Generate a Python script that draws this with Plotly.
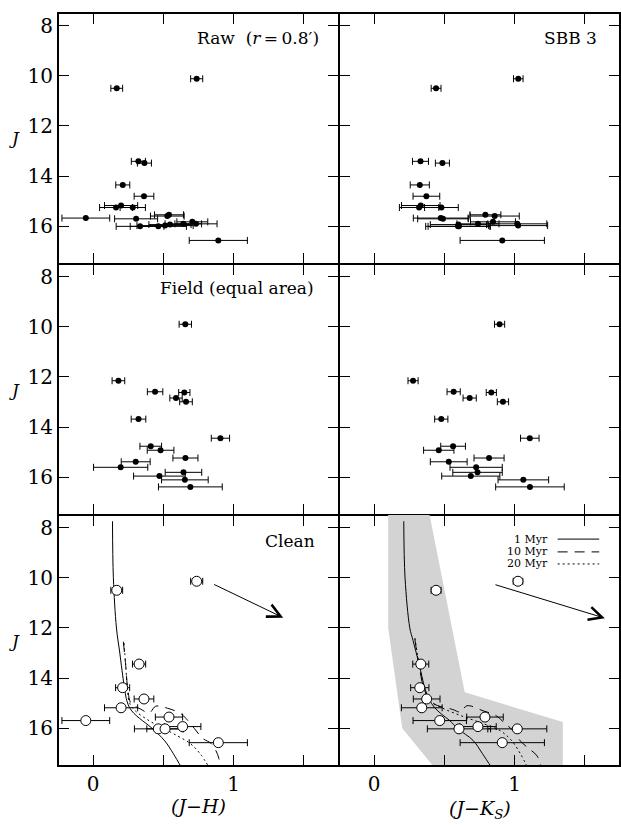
import plotly.graph_objects as go
from plotly.subplots import make_subplots

# ---------------- data ----------------
# Raw (r = 0.8') stars
raw_J   = [10.12, 10.50, 13.41, 13.48, 14.35, 14.80, 15.17, 15.25, 15.25, 15.67, 15.70,
           15.54, 15.59, 15.82, 15.90, 15.90, 16.00, 16.00, 15.97, 15.93, 16.56]
raw_JH  = [0.737, 0.168, 0.322, 0.365, 0.211, 0.362, 0.199, 0.163, 0.282, -0.052, 0.306,
           0.540, 0.528, 0.706, 0.642, 0.732, 0.334, 0.464, 0.512, 0.547, 0.891]
raw_eJH = [0.043, 0.042, 0.05, 0.05, 0.05, 0.07, 0.118, 0.117, 0.09, 0.17, 0.153,
           0.103, 0.12, 0.11, 0.13, 0.15, 0.17, 0.2, 0.2, 0.15, 0.207]
raw_JK  = [1.026, 0.441, 0.330, 0.486, 0.325, 0.372, 0.332, 0.320, 0.479, 0.474, 0.490,
           0.792, 0.858, 0.846, 0.739, 1.019, 0.597, 0.604, 1.025, 0.600, 0.912]
raw_eJK = [0.034, 0.035, 0.057, 0.05, 0.068, 0.095, 0.137, 0.14, 0.12, 0.195, 0.18,
           0.11, 0.175, 0.16, 0.15, 0.21, 0.23, 0.22, 0.21, 0.2, 0.30]

# Field (equal area) stars
field_J   = [9.90, 12.15, 12.59, 12.62, 12.84, 12.99, 13.68, 14.44, 14.76, 14.92, 15.23,
             15.38, 15.60, 15.80, 15.95, 16.10, 16.38]
field_JH  = [0.656, 0.180, 0.441, 0.649, 0.590, 0.661, 0.323, 0.906, 0.410, 0.480, 0.657,
             0.303, 0.196, 0.643, 0.472, 0.653, 0.692]
field_eJH = [0.044, 0.045, 0.055, 0.040, 0.044, 0.045, 0.052, 0.065, 0.077, 0.095, 0.089,
             0.103, 0.193, 0.130, 0.184, 0.166, 0.227]
field_JK  = [0.893, 0.277, 0.566, 0.834, 0.680, 0.917, 0.478, 1.108, 0.562, 0.460, 0.818,
             0.531, 0.726, 0.736, 0.688, 1.062, 1.109]
field_eJK = [0.036, 0.036, 0.047, 0.036, 0.047, 0.040, 0.047, 0.066, 0.088, 0.108, 0.107,
             0.131, 0.186, 0.176, 0.207, 0.180, 0.244]

# Clean (decontaminated) stars
clean_J   = [10.14, 10.50, 13.44, 14.38, 14.83, 15.18, 15.69, 15.55, 16.02, 16.02, 15.93, 16.57]
clean_JH  = [0.737, 0.168, 0.327, 0.210, 0.362, 0.199, -0.052, 0.540, 0.464, 0.512, 0.637, 0.891]
clean_eJH = [0.043, 0.042, 0.047, 0.050, 0.070, 0.118, 0.170, 0.097, 0.170, 0.130, 0.130, 0.207]
clean_JK  = [1.024, 0.441, 0.332, 0.325, 0.374, 0.339, 0.467, 0.789, 0.604, 1.019, 0.739, 0.912]
clean_eJK = [0.034, 0.035, 0.057, 0.065, 0.095, 0.145, 0.190, 0.130, 0.225, 0.210, 0.130, 0.300]

# Isochrones, J vs (J-H)
iso1_J_h   = [7.75, 10.0, 12.0, 13.0, 14.0, 14.9, 15.2, 15.4, 15.6, 16.0, 16.5, 17.0, 17.6]
iso1_JH    = [0.138, 0.144, 0.166, 0.190, 0.213, 0.240, 0.262, 0.290, 0.330, 0.420, 0.510, 0.570, 0.632]
iso10_J_h  = [12.55, 13.5, 14.5, 15.0, 15.22, 15.38, 15.12, 15.2, 15.4, 15.6, 16.0, 16.4, 16.6,
              16.9, 17.2, 17.6]
iso10_JH   = [0.215, 0.232, 0.248, 0.270, 0.334, 0.400, 0.445, 0.530, 0.620, 0.660, 0.720, 0.780,
              0.840, 0.875, 0.895, 0.905]
iso20_J_h  = [12.6, 13.5, 14.5, 15.0, 15.3, 15.7, 16.0, 16.3, 16.6, 17.0, 17.6]
iso20_JH   = [0.220, 0.232, 0.245, 0.260, 0.300, 0.400, 0.500, 0.600, 0.690, 0.760, 0.830]

# Isochrones, J vs (J-Ks)
iso1_J_k   = [7.75, 10.0, 12.0, 12.5, 13.44, 14.38, 14.83, 15.17, 15.43, 15.69, 16.02, 16.48, 17.0, 17.6]
iso1_JK    = [0.211, 0.220, 0.254, 0.277, 0.320, 0.360, 0.390, 0.430, 0.479, 0.538, 0.597, 0.704,
              0.770, 0.840]
iso10_J_k  = [12.45, 13.5, 14.5, 15.0, 15.25, 15.35, 15.1, 15.3, 15.5, 15.8, 16.1, 16.5, 16.8,
              17.1, 17.6]
iso10_JK   = [0.290, 0.320, 0.360, 0.420, 0.560, 0.615, 0.660, 0.775, 0.870, 0.930, 0.990, 1.040,
              1.100, 1.160, 1.190]
iso20_J_k  = [12.4, 13.5, 14.5, 14.9, 15.2, 15.5, 15.8, 16.1, 16.5, 17.0, 17.6]
iso20_JK   = [0.290, 0.322, 0.362, 0.395, 0.490, 0.620, 0.770, 0.900, 0.980, 1.040, 1.095]

# Colour-magnitude filter band (J-Ks panel)
band_JK = [0.10, 0.395, 0.645, 1.343, 1.343, 0.42, 0.20, 0.10]
band_J  = [7.5, 7.5, 14.56, 15.75, 17.5, 17.5, 16.0, 12.0]

# Reddening vectors (start, end)
redJH_x = [0.851, 1.353]
redJH_y = [10.24, 11.59]
redJK_x = [0.853, 1.642]
redJK_y = [10.26, 11.61]

x_ticks = [0, 0.5, 1, 1.5]
x_ticktext = ["0", "", "1", ""]
y_ticks = [8, 10, 12, 14, 16]
y_ticktext = ["8", "10", "12", "14", "16"]

ages = ["1 Myr", "10 Myr", "20 Myr"]

# ---------------- figure ----------------
SERIF = "DejaVu Serif"
fig = make_subplots(rows=3, cols=2, horizontal_spacing=0, vertical_spacing=0)

def err(arr):
    return dict(type="data", array=arr, symmetric=True, color="black", thickness=1, width=3.5)

def filled(x, y, e, row, col):
    fig.add_trace(go.Scatter(x=x, y=y, mode="markers", error_x=err(e),
                             marker=dict(color="black", size=6), showlegend=False,
                             cliponaxis=True), row=row, col=col)

filled(raw_JH, raw_J, raw_eJH, 1, 1)
filled(raw_JK, raw_J, raw_eJK, 1, 2)
filled(field_JH, field_J, field_eJH, 2, 1)
filled(field_JK, field_J, field_eJK, 2, 2)

# band
fig.add_trace(go.Scatter(x=band_JK, y=band_J, fill="toself", fillcolor="#d3d3d3",
                         line=dict(width=0), mode="lines", showlegend=False,
                         hoverinfo="skip"), row=3, col=2)

dashes = ["solid", "10px,7px", "2px,3px"]
for xs, ys, d in [(iso1_JH, iso1_J_h, dashes[0]), (iso10_JH, iso10_J_h, dashes[1]),
                  (iso20_JH, iso20_J_h, dashes[2])]:
    fig.add_trace(go.Scatter(x=xs, y=ys, mode="lines", line=dict(color="black", width=1, dash=d),
                             showlegend=False, line_shape="spline"), row=3, col=1)
for xs, ys, d in [(iso1_JK, iso1_J_k, dashes[0]), (iso10_JK, iso10_J_k, dashes[1]),
                  (iso20_JK, iso20_J_k, dashes[2])]:
    fig.add_trace(go.Scatter(x=xs, y=ys, mode="lines", line=dict(color="black", width=1, dash=d),
                             showlegend=False, line_shape="spline"), row=3, col=2)

def opened(x, y, e, row, col):
    fig.add_trace(go.Scatter(x=x, y=y, mode="markers", error_x=err(e),
                             marker=dict(color="white", size=10, line=dict(color="black", width=1)),
                             showlegend=False), row=row, col=col)

opened(clean_JH, clean_J, clean_eJH, 3, 1)
opened(clean_JK, clean_J, clean_eJK, 3, 2)

# axes
for r in range(1, 4):
    for c in range(1, 3):
        fig.update_xaxes(row=r, col=c, range=[-0.25, 1.75], tickvals=x_ticks, ticktext=x_ticktext,
                         ticks="inside", ticklen=11, tickwidth=1.2, tickcolor="black",
                         showline=True, linewidth=1, linecolor="black", mirror="ticks",
                         showgrid=False, zeroline=False, showticklabels=(r == 3),
                         tickfont=dict(family=SERIF, size=20, color="black"))
        fig.update_yaxes(row=r, col=c, range=[17.5, 7.5], tickvals=y_ticks, ticktext=y_ticktext,
                         ticks="inside", ticklen=11, tickwidth=1.2, tickcolor="black",
                         showline=True, linewidth=1, linecolor="black", mirror="ticks",
                         showgrid=False, zeroline=False, showticklabels=(c == 1),
                         tickfont=dict(family=SERIF, size=20, color="black"))

# outer frame to thicken the outside border
fig.add_shape(type="rect", xref="paper", yref="paper", x0=0, x1=1, y0=0, y1=1,
              line=dict(color="black", width=2), fillcolor="rgba(0,0,0,0)", layer="above")

ann = []
def label(text, xref, yref, x, y, size=17, anchor="right"):
    ann.append(dict(text=text, xref=xref, yref=yref, x=x, y=y, xanchor=anchor, yanchor="middle",
                    showarrow=False, font=dict(family=SERIF, size=size, color="black")))

label("Raw  (<i>r</i>\u2009=\u20090.8\u2032)", "x domain", "y domain", 0.936, 0.902)
label("SBB 3", "x2 domain", "y2 domain", 0.925, 0.902)
label("Field (equal area)", "x3 domain", "y3 domain", 0.918, 0.903)
label("Clean", "x5 domain", "y5 domain", 0.922, 0.898)

# axis titles
label("<i>(J\u2212H)</i>", "x5 domain", "paper", 0.5, -0.053, size=19, anchor="center")
label("<i>(J\u2212K<sub>S</sub>)</i>", "x6 domain", "paper", 0.5, -0.058, size=19, anchor="center")
for yc in [138.5, 389.5, 640.5]:
    label("<i>J</i>", "paper", "paper", (14 - 58) / 562, (766 - yc) / 753, size=17, anchor="center")

# legend text + lines
for i, (age, yd) in enumerate(zip(ages, [0.904, 0.853, 0.805])):
    label(age, "x6 domain", "y6 domain", 0.751, yd, size=11)
    fig.add_shape(type="line", xref="x6 domain", yref="y6 domain", x0=0.778, x1=0.926, y0=yd, y1=yd,
                  line=dict(color="black", width=1, dash=dashes[i]))

# reddening arrows
for xs, ys, xr, yr in [(redJH_x, redJH_y, "x5", "y5"), (redJK_x, redJK_y, "x6", "y6")]:
    ann.append(dict(x=xs[1], y=ys[1], ax=xs[0], ay=ys[0], xref=xr, yref=yr, axref=xr, ayref=yr,
                    text="", showarrow=True, arrowhead=5, arrowsize=2.6, arrowwidth=1,
                    arrowcolor="black"))

fig.update_layout(width=621, height=825, margin=dict(l=58, r=1, t=13, b=59, pad=0),
                  paper_bgcolor="white", plot_bgcolor="white", annotations=ann,
                  showlegend=False)

fig.write_html("out.html")
